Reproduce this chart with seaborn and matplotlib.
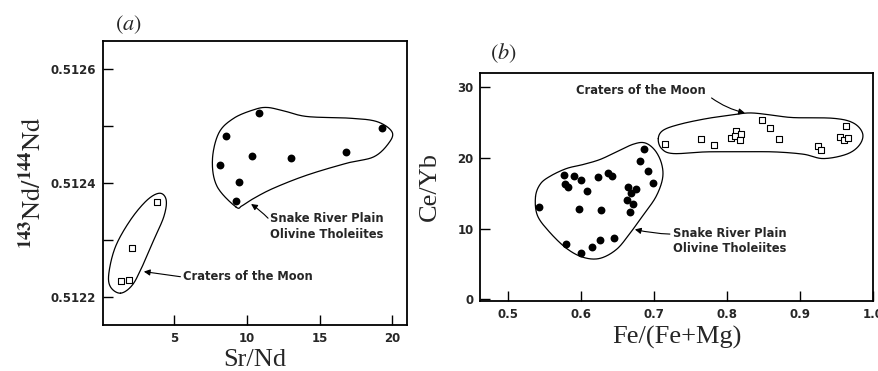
import numpy as np
import pandas as pd
import matplotlib
matplotlib.use("Agg")
import matplotlib.pyplot as plt
import seaborn as sns

# ---- panel (a): Sr/Nd vs 143Nd/144Nd ----
srp_a_srnd = [8.12, 8.55, 10.82, 19.28, 10.32, 13.00, 16.81, 9.45, 9.22]
srp_a_nd = [0.512432, 0.512482, 0.512523, 0.512497, 0.512447, 0.512444,
            0.512455, 0.512402, 0.512368]
com_a_srnd = [3.81, 2.09, 1.29, 1.90]
com_a_nd = [0.512366, 0.512285, 0.512228, 0.512230]

# ---- panel (b): Fe/(Fe+Mg) vs Ce/Yb ----
srp_b_fe = [0.5425, 0.5764, 0.5778, 0.5823, 0.5910, 0.5993, 0.6084, 0.5974,
            0.6226, 0.6267, 0.6372, 0.6427, 0.6647, 0.6679, 0.6752, 0.6624,
            0.6706, 0.6670, 0.6802, 0.6866, 0.6912, 0.6990, 0.5800, 0.5997,
            0.6153, 0.6263, 0.6450]
srp_b_ceyb = [13.1, 17.57, 16.39, 15.92, 17.52, 16.86, 15.31, 12.81, 17.38,
              12.67, 17.90, 17.43, 15.87, 14.98, 15.64, 14.04, 13.47, 12.39,
              19.55, 21.24, 18.13, 16.49, 7.77, 6.55, 7.44, 8.38, 8.67]
com_b_fe = [0.7145, 0.7644, 0.7823, 0.8051, 0.8124, 0.8115, 0.8188, 0.8179,
            0.8481, 0.8596, 0.8719, 0.9254, 0.9295, 0.9552, 0.9639, 0.9607,
            0.9666]
com_b_ceyb = [22.04, 22.66, 21.86, 22.85, 23.79, 23.08, 23.46, 22.61, 25.39,
              24.26, 22.70, 21.71, 21.10, 22.99, 24.49, 22.52, 22.85]

srp_label = "Snake River Plain\nOlivine Tholeiites"
com_label = "Craters of the Moon"

# hand-drawn group outlines (control points of closed smooth curves)
srp_a_outline = ([9.22, 7.93, 7.61, 8.05, 9.08, 10.46, 11.37, 12.52, 14.13, 17.11,
                  18.94, 19.97, 19.74, 18.71, 16.88, 14.13, 11.83, 10.46, 9.65],
                 [0.512358, 0.512394, 0.512440, 0.512488, 0.512514, 0.512529,
                  0.512533, 0.512527, 0.512517, 0.512514, 0.512508, 0.512490,
                  0.512470, 0.512446, 0.512435, 0.512414, 0.512391, 0.512373,
                  0.512360])
com_a_outline = ([1.285, 0.598, 0.483, 0.941, 1.973, 3.12, 3.99, 4.43, 4.27, 3.58,
                  2.78, 2.09],
                 [0.512206, 0.512217, 0.512241, 0.512288, 0.512335, 0.512370,
                  0.512382, 0.512370, 0.512341, 0.512300, 0.512253, 0.512220])
srp_b_outline = ([0.5375, 0.5440, 0.5572, 0.5800, 0.6029, 0.6258, 0.6487, 0.6715,
                  0.6876, 0.7013, 0.7104, 0.7118, 0.7027, 0.6853, 0.6670, 0.6487,
                  0.6258, 0.6029, 0.5800, 0.5560, 0.5400],
                 [14.50, 16.30, 17.40, 18.51, 19.08, 19.78, 20.87, 21.95, 22.14,
                  21.10, 19.22, 17.10, 14.51, 11.92, 9.33, 7.07, 5.79, 5.94, 7.21,
                  9.60, 11.90])
com_b_outline = ([0.7059, 0.7127, 0.7356, 0.7722, 0.8042, 0.8317, 0.8637, 0.8911,
                  0.9460, 0.9735, 0.9863, 0.9817, 0.9643, 0.9323, 0.9048, 0.8637,
                  0.8179, 0.7722, 0.7264, 0.7104],
                 [22.75, 23.93, 24.78, 25.58, 26.05, 26.38, 26.05, 25.72, 25.62,
                  24.96, 23.46, 21.81, 20.54, 19.92, 20.54, 20.87, 20.87, 20.87,
                  20.63, 21.34])


def closed_curve(xs, ys, n=24):
    """Periodic Catmull-Rom spline through the given control points."""
    pts = np.column_stack([xs, ys])
    N = len(pts)
    t = np.linspace(0, 1, n, endpoint=False)[:, None]
    seg = []
    for i in range(N):
        p0, p1, p2, p3 = pts[(i - 1) % N], pts[i], pts[(i + 1) % N], pts[(i + 2) % N]
        seg.append(0.5 * (2 * p1 + (-p0 + p2) * t
                          + (2 * p0 - 5 * p1 + 4 * p2 - p3) * t ** 2
                          + (-p0 + 3 * p1 - 3 * p2 + p3) * t ** 3))
    c = np.vstack(seg + [pts[:1]])
    return c[:, 0], c[:, 1]


sns.set_theme(style="ticks")
plt.rcParams["font.family"] = ["DejaVu Sans"]
plt.rcParams["mathtext.fontset"] = "stix"

serif = ["Liberation Serif", "DejaVu Serif"]
tick_font = dict(family="DejaVu Sans", weight="bold", size=8.5)
note_font = dict(family="DejaVu Sans", weight="bold", size=8.3)

fig = plt.figure(figsize=(8.79, 3.71), dpi=100)
ax_a = fig.add_axes([0.1175, 0.124, 0.3455, 0.7655])
ax_b = fig.add_axes([0.5466, 0.1895, 0.447, 0.615])

df_a_srp = pd.DataFrame({"Sr/Nd": srp_a_srnd, "Nd": srp_a_nd})
df_a_com = pd.DataFrame({"Sr/Nd": com_a_srnd, "Nd": com_a_nd})
df_b_srp = pd.DataFrame({"Fe": srp_b_fe, "CeYb": srp_b_ceyb})
df_b_com = pd.DataFrame({"Fe": com_b_fe, "CeYb": com_b_ceyb})

circle_kw = dict(marker="o", s=32, color="black", edgecolor="black", linewidth=0,
                 zorder=3, legend=False)
square_kw = dict(marker="s", s=24, facecolor="white", edgecolor="black",
                 linewidth=0.8, zorder=3, legend=False)

sns.scatterplot(data=df_a_srp, x="Sr/Nd", y="Nd", ax=ax_a, **circle_kw)
sns.scatterplot(data=df_a_com, x="Sr/Nd", y="Nd", ax=ax_a, **square_kw)
sns.scatterplot(data=df_b_srp, x="Fe", y="CeYb", ax=ax_b, **circle_kw)
sns.scatterplot(data=df_b_com, x="Fe", y="CeYb", ax=ax_b, **square_kw)

for ax, outline in [(ax_a, srp_a_outline), (ax_a, com_a_outline),
                    (ax_b, srp_b_outline), (ax_b, com_b_outline)]:
    cx, cy = closed_curve(*outline)
    ax.plot(cx, cy, color="black", lw=0.9, zorder=2)

arrow = dict(arrowstyle="-|>", color="black", lw=0.8, mutation_scale=9,
             shrinkA=0, shrinkB=0)

# panel (a) annotations
ax_a.annotate("", xy=(10.27, 0.512363), xytext=(11.44, 0.512338),
              arrowprops=dict(arrow, connectionstyle="arc3,rad=0.05"))
ax_a.text(11.6, 0.512323, srp_label, ha="left", va="center",
          linespacing=1.25, **note_font)
ax_a.annotate("", xy=(2.89, 0.512244), xytext=(5.41, 0.512235),
              arrowprops=dict(arrow, connectionstyle="arc3,rad=0.0"))
ax_a.text(5.6, 0.512235, com_label, ha="left", va="center", **note_font)

# panel (b) annotations
ax_b.annotate("", xy=(0.8248, 26.38), xytext=(0.779, 28.5),
              arrowprops=dict(arrow, connectionstyle="arc3,rad=0.1"))
ax_b.text(0.5929, 29.58, com_label, ha="left", va="center", **note_font)
ax_b.annotate("", xy=(0.6738, 9.89), xytext=(0.7219, 9.23),
              arrowprops=dict(arrow, connectionstyle="arc3,rad=-0.05"))
ax_b.text(0.7264, 8.27, srp_label, ha="left", va="center",
          linespacing=1.25, **note_font)

# axes limits and ticks
ax_a.set_xlim(0.1, 21.0)
ax_a.set_ylim(0.51215, 0.51265)
nd_ticks = [0.5122, 0.5123, 0.5124, 0.5125, 0.5126]
ax_a.set_yticks(nd_ticks)
ax_a.set_yticklabels([f"{v:.4f}" if i % 2 == 0 else "" for i, v in enumerate(nd_ticks)])
ax_a.set_xticks([5, 10, 15, 20])
ax_a.set_xticklabels(["5", "10", "15", "20"])

ax_b.set_xlim(0.462, 1.001)
ax_b.set_ylim(-0.2, 32.1)
ax_b.set_xticks([0.5, 0.6, 0.7, 0.8, 0.9, 1.0])
ax_b.set_xticklabels(["0.5", "0.6", "0.7", "0.8", "0.9", "1.0"])
ax_b.set_yticks([0, 10, 20, 30])
ax_b.set_yticklabels(["0", "10", "20", "30"])

for ax in (ax_a, ax_b):
    ax.tick_params(direction="in", length=7, width=1.0, color="black", pad=5,
                   top=False, right=False)
    for lab in ax.get_xticklabels() + ax.get_yticklabels():
        lab.set_fontfamily(tick_font["family"])
        lab.set_fontweight(tick_font["weight"])
        lab.set_fontsize(tick_font["size"])
    for sp in ax.spines.values():
        sp.set_visible(True)
        sp.set_linewidth(1.3)
        sp.set_color("black")
    ax.set_xlabel("")
    ax.set_ylabel("")
    ax.grid(False)

ax_a.set_xlabel("Sr/Nd", family=serif, size=19, labelpad=3)
ax_a.set_ylabel(r"$^{\mathbf{143}}\mathrm{Nd}/^{\mathbf{144}}\mathrm{Nd}$", size=19,
                labelpad=3)
ax_b.set_xlabel("Fe/(Fe+Mg)", family=serif, size=19, labelpad=4)
ax_b.set_ylabel("Ce/Yb", family=serif, size=19, labelpad=12)

fig.text(115 / 879, 1 - 25 / 371, r"$(a)$", size=16, ha="left", va="center")
fig.text(490 / 879, 1 - 53 / 371, r"$(b)$", size=16, ha="left", va="center")

fig.savefig("out.png", dpi=100, facecolor="white")
